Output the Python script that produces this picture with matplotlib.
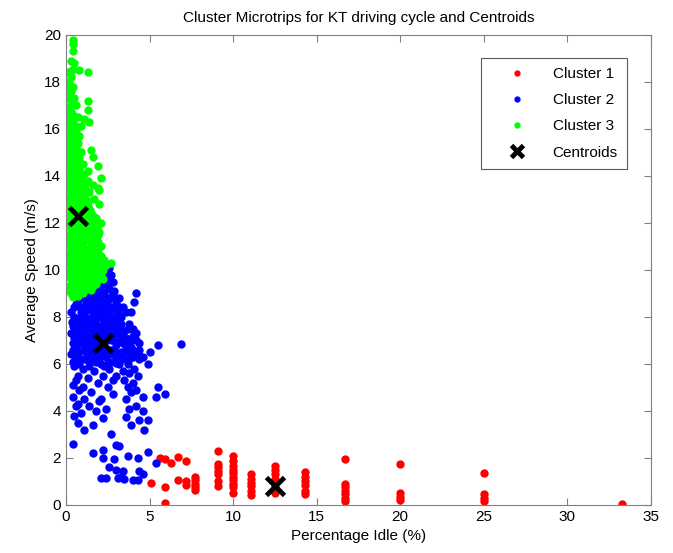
import numpy as np
import matplotlib
matplotlib.use('Agg')
import matplotlib.pyplot as plt

plt.rcParams['font.family'] = ['Liberation Sans', 'DejaVu Sans']

# Cluster 1 (red) - points sit on columns of discrete idle percentages
cluster1 = [
    (5.1, 0.95), (5.6, 2.0), (5.9, 1.95), (6.3, 1.8), (6.7, 2.05), (7.2, 1.85),
    (5.9, 0.75), (5.9, 0.1), (6.7, 1.05), (7.2, 1.0), (7.2, 0.85),
    (7.7, 1.2), (7.7, 1.05), (7.7, 0.9), (7.7, 0.75), (7.7, 0.65),
    (9.1, 2.3), (9.1, 1.75), (9.1, 1.6), (9.1, 1.45), (9.1, 1.3), (9.1, 1.0), (9.1, 0.8),
    (10.0, 2.1), (10.0, 1.85), (10.0, 1.65), (10.0, 1.5), (10.0, 1.35), (10.0, 1.2),
    (10.0, 1.05), (10.0, 0.9), (10.0, 0.75), (10.0, 0.5),
    (11.1, 1.3), (11.1, 1.1), (11.1, 0.95), (11.1, 0.8), (11.1, 0.6), (11.1, 0.4),
    (12.5, 1.65), (12.5, 1.5), (12.5, 1.3), (12.5, 1.1), (12.5, 0.95), (12.5, 0.75), (12.5, 0.5),
    (14.3, 1.4), (14.3, 1.2), (14.3, 1.0), (14.3, 0.85), (14.3, 0.6), (14.3, 0.45),
    (16.7, 1.95), (16.7, 0.9), (16.7, 0.75), (16.7, 0.6), (16.7, 0.45), (16.7, 0.3), (16.7, 0.15),
    (20.0, 1.75), (20.0, 0.5), (20.0, 0.35), (20.0, 0.2),
    (25.0, 1.35), (25.0, 0.45), (25.0, 0.3), (25.0, 0.15),
    (33.3, 0.05),
]

# Cluster 2 (blue)
cluster2 = [
    (2.6, 10.1), (2.4, 9.9), (2.7, 9.8), (2.2, 9.7), (2.5, 9.6), (2.8, 9.5), (1.9, 9.5),
    (2.3, 9.4), (1.6, 9.3), (2.0, 9.2), (2.6, 9.2), (2.9, 9.1), (1.3, 9.1), (4.2, 9.0),
    (1.8, 9.0), (2.3, 8.95), (1.0, 8.9), (2.7, 8.85), (1.5, 8.8), (4.1, 8.65), (2.0, 8.7),
    (0.7, 8.7), (3.0, 8.6), (1.2, 8.6), (2.4, 8.5), (1.7, 8.5), (0.5, 8.4), (2.9, 8.35),
    (2.1, 8.3), (3.9, 8.2), (3.6, 8.2), (1.3, 8.3), (0.3, 8.2), (0.9, 8.2), (2.6, 8.1),
    (1.6, 8.0), (3.3, 8.0), (0.6, 7.9), (2.2, 7.9), (1.1, 7.8), (2.8, 7.8), (3.8, 7.7),
    (1.8, 7.7), (0.4, 7.6), (3.1, 7.6), (2.4, 7.6), (1.4, 7.5), (3.5, 7.4), (0.8, 7.4),
    (2.0, 7.4), (4.2, 7.3), (2.7, 7.3), (1.2, 7.2), (3.3, 7.2), (0.5, 7.1), (1.7, 7.1),
    (3.9, 7.0), (2.4, 7.0), (3.0, 6.95), (1.0, 6.9), (4.4, 6.9), (6.9, 6.85), (5.5, 6.8),
    (1.5, 6.8), (3.6, 6.8), (2.0, 6.7), (0.6, 6.7), (2.7, 6.6), (4.0, 6.6), (3.3, 6.5),
    (1.2, 6.5), (5.0, 6.5), (0.3, 6.4), (1.8, 6.4), (2.4, 6.3), (4.4, 6.2), (3.0, 6.2),
    (0.8, 6.2), (1.4, 6.1), (3.7, 6.0), (4.9, 6.0), (2.1, 6.0), (0.5, 5.9), (1.0, 5.8),
    (2.6, 5.8), (3.4, 5.7), (1.7, 5.7), (3.8, 5.6), (4.3, 5.5), (0.7, 5.5), (2.2, 5.5),
    (1.3, 5.4), (3.5, 5.3), (4.0, 5.2), (1.9, 5.2), (0.4, 5.1), (3.7, 5.0), (5.5, 5.0),
    (1.0, 5.0), (2.5, 5.0), (0.8, 4.9), (4.2, 4.9), (1.5, 4.8), (3.9, 4.8), (2.8, 4.7),
    (5.9, 4.7), (0.4, 4.6), (5.4, 4.6), (4.6, 4.6), (2.1, 4.5), (3.6, 4.5), (1.1, 4.5),
    (2.0, 4.4), (0.7, 4.3), (4.2, 4.2), (1.4, 4.2), (0.6, 4.2), (3.8, 4.1), (2.4, 4.1),
    (4.6, 4.0), (1.8, 4.0), (0.9, 3.9), (3.6, 3.75), (0.5, 3.8), (4.4, 3.6), (4.9, 3.6),
    (2.2, 3.7), (1.6, 3.4), (0.7, 3.5), (3.9, 3.4), (1.1, 3.2), (4.7, 3.2), (2.7, 3.0),
    (0.4, 2.6), (3.0, 2.55), (3.2, 2.5), (2.2, 2.35), (4.9, 2.25), (1.6, 2.2), (3.7, 2.1),
    (2.2, 2.0), (4.3, 2.0), (2.9, 1.95), (5.4, 1.8), (3.0, 1.5), (3.4, 1.45), (4.4, 1.45),
    (2.1, 1.15), (2.4, 1.15), (3.1, 1.15), (3.3, 1.2), (4.0, 1.05), (4.3, 1.05), (2.6, 1.6),
    (3.5, 1.1), (4.6, 1.3),
    (0.9, 8.0), (1.4, 7.9), (2.5, 7.8), (3.0, 7.9), (0.7, 7.7), (1.5, 7.7), (2.1, 7.6),
    (2.9, 7.5), (3.7, 7.5), (1.0, 7.5), (1.7, 7.4), (2.4, 7.35), (3.1, 7.3), (0.6, 7.3),
    (1.5, 7.2), (2.1, 7.2), (2.8, 7.15), (3.6, 7.1), (4.0, 7.2), (0.9, 7.1), (1.3, 7.0),
    (2.0, 7.0), (2.7, 7.0), (3.4, 6.9), (0.4, 6.9), (1.8, 6.9), (2.3, 6.8), (3.0, 6.8),
    (3.9, 6.7), (1.0, 6.6), (1.6, 6.6), (2.4, 6.6), (3.6, 6.5), (4.3, 6.5), (0.7, 6.4),
    (2.1, 6.4), (2.9, 6.4), (1.5, 6.3), (3.4, 6.2), (4.0, 6.3), (1.1, 6.2), (2.7, 6.1),
    (0.4, 6.1), (1.8, 6.1), (3.2, 6.0), (0.8, 6.0), (2.3, 5.9), (1.4, 5.9), (4.1, 5.8),
    (3.0, 5.5), (2.8, 5.3), (0.6, 5.3),
    (1.4, 9.0), (2.2, 9.05), (1.1, 8.8), (1.8, 8.6), (2.5, 8.7), (2.8, 9.0), (2.0, 8.5),
    (1.3, 8.45), (0.8, 8.45), (2.7, 8.4), (1.6, 8.2), (2.3, 8.15), (1.9, 8.0), (2.8, 8.0),
    (1.2, 7.95), (3.4, 8.4), (3.2, 8.8),
    (0.5, 8.0), (1.1, 8.1), (1.9, 8.25), (2.5, 8.3), (3.1, 8.2), (0.35, 7.8), (0.9, 7.75),
    (1.65, 7.85), (2.3, 7.7), (3.3, 7.7), (0.55, 7.5), (1.2, 7.6), (1.95, 7.55), (2.6, 7.5),
    (3.3, 7.45), (4.0, 7.5), (0.3, 7.3), (0.95, 7.3), (1.9, 7.25), (2.5, 7.2), (3.3, 7.0),
    (4.2, 7.0), (0.7, 6.9), (1.6, 7.0), (2.2, 6.9), (2.9, 6.6), (3.6, 6.7), (4.4, 6.6),
    (0.45, 6.6), (1.3, 6.7), (1.9, 6.55), (2.6, 6.4), (3.2, 6.3), (3.9, 6.4), (0.6, 6.3),
    (1.3, 6.4), (2.0, 6.2), (2.5, 6.05), (3.0, 6.05), (3.8, 6.2), (4.6, 6.3),
    (0.9, 9.1), (1.7, 9.2), (2.1, 9.45), (2.5, 9.3), (1.9, 8.85), (2.9, 8.8), (1.4, 8.65),
    (0.6, 8.55), (2.3, 8.6), (1.0, 8.35), (3.2, 8.4),
]

# Cluster 3 (green)
cluster3 = [
    (0.4, 19.8), (0.4, 19.6), (0.4, 19.3), (0.3, 18.9), (0.5, 18.8), (0.8, 18.5), (1.3, 18.4),
    (0.3, 18.2), (0.2, 17.9), (0.4, 17.8), (0.3, 17.6), (0.2, 17.4), (0.5, 17.3), (1.3, 17.2),
    (0.3, 17.1), (0.6, 17.0), (1.3, 16.8), (0.2, 16.8), (0.4, 16.6), (0.7, 16.5), (1.1, 16.4),
    (0.2, 16.3), (0.5, 16.2), (0.9, 16.1), (1.4, 16.3), (0.3, 16.0), (0.6, 15.9), (0.8, 15.7),
    (0.2, 15.7), (0.4, 15.5), (0.7, 15.4), (1.5, 15.1), (0.3, 15.3), (0.6, 15.2), (0.9, 15.0),
    (0.2, 14.9), (1.6, 14.8), (0.5, 14.8), (0.7, 14.6), (0.3, 14.5), (1.0, 14.5), (1.9, 14.4),
    (0.2, 14.3), (0.6, 14.2), (1.3, 14.2), (0.4, 14.0), (0.9, 14.0), (2.1, 13.9), (0.2, 13.8),
    (0.7, 13.8), (1.2, 13.7), (1.6, 13.6), (0.5, 13.6), (1.9, 13.5), (2.0, 13.4), (0.3, 13.4),
    (0.9, 13.4), (1.4, 13.3), (0.6, 13.2), (1.1, 13.1), (0.2, 13.0), (1.7, 13.0), (0.8, 12.9),
    (2.0, 12.8), (0.4, 12.8), (1.3, 12.7), (0.6, 12.6), (1.0, 12.5), (1.5, 12.4), (0.3, 12.3),
    (1.8, 12.2), (0.8, 12.2), (1.2, 12.1), (2.1, 12.0), (0.5, 12.0), (1.6, 11.9), (0.3, 11.8),
    (1.0, 11.8), (1.4, 11.6), (0.7, 11.6), (1.9, 11.5), (0.4, 11.4), (1.2, 11.3), (0.9, 11.2),
    (1.7, 11.1), (0.5, 11.0), (1.4, 10.9), (0.8, 10.8), (1.9, 10.7), (1.1, 10.6), (0.3, 10.6),
    (1.6, 10.5), (0.7, 10.4), (1.3, 10.3), (0.4, 10.2), (1.9, 10.1), (1.0, 10.0), (0.6, 9.9),
    (1.5, 9.9), (0.2, 9.8), (1.2, 9.7), (1.8, 9.6), (0.8, 9.5), (0.4, 9.4), (1.4, 9.4),
    (1.0, 9.2), (0.6, 9.1), (0.3, 9.0), (1.6, 9.3), (2.2, 9.6), (2.0, 10.3), (2.1, 11.0),
    (0.3, 9.0), (0.7, 8.9), (1.0, 9.0), (0.4, 8.85),
    (0.2, 9.3), (0.6, 9.3), (1.0, 9.35), (1.4, 9.3), (1.8, 9.4),
    (0.15, 9.7), (0.5, 9.65), (0.9, 9.7), (1.3, 9.75), (1.7, 9.7), (2.1, 9.8),
    (0.3, 10.1), (0.7, 10.05), (1.1, 10.1), (1.5, 10.15), (1.9, 10.1), (2.4, 10.2), (2.7, 10.3),
    (0.15, 10.5), (0.55, 10.45), (0.95, 10.5), (1.35, 10.55), (1.75, 10.5), (2.1, 10.6),
    (0.3, 10.9), (0.7, 10.85), (1.1, 10.9), (1.5, 10.95), (1.9, 10.9),
    (0.15, 11.3), (0.55, 11.25), (0.95, 11.3), (1.35, 11.35), (1.75, 11.3), (2.0, 11.6),
    (0.3, 11.7), (0.7, 11.65), (1.1, 11.7), (1.5, 11.75), (1.85, 11.8),
    (0.15, 12.1), (0.55, 12.05), (0.95, 12.1), (1.35, 12.15), (1.7, 12.1),
    (0.3, 12.5), (0.7, 12.45), (1.1, 12.5), (1.45, 12.55),
    (0.15, 12.9), (0.55, 12.85), (0.95, 12.9), (1.3, 12.95),
    (0.3, 13.3), (0.7, 13.25), (1.1, 13.3),
    (0.15, 13.7), (0.55, 13.65), (0.95, 13.7), (1.3, 13.8),
    (0.3, 14.1), (0.7, 14.05), (1.1, 14.1),
    (0.15, 14.5), (0.55, 14.45), (0.85, 14.5),
    (0.3, 14.9), (0.65, 14.9), (0.15, 15.4), (0.45, 15.3), (0.2, 15.8), (0.5, 15.7),
    (0.15, 16.1), (0.35, 16.4), (0.15, 16.9), (0.4, 17.2), (0.15, 18.0), (0.35, 18.5),
    (0.1, 9.15), (0.5, 9.2), (0.85, 9.15), (1.2, 9.2), (1.5, 9.15),
    (0.35, 9.5), (0.7, 9.5), (1.1, 9.5), (1.55, 9.55), (1.95, 9.6),
    (0.1, 9.9), (0.45, 9.85), (0.85, 9.9), (1.25, 9.9), (1.7, 9.95), (2.2, 10.0),
    (0.15, 10.3), (0.5, 10.3), (0.9, 10.3), (1.15, 10.35), (1.55, 10.3), (2.3, 10.4),
    (0.1, 10.7), (0.5, 10.7), (0.9, 10.7), (1.25, 10.75), (1.6, 10.7),
    (0.1, 11.1), (0.3, 11.15), (0.7, 11.1), (1.05, 11.1), (1.5, 11.15), (1.9, 11.2),
    (0.15, 11.5), (0.55, 11.5), (0.95, 11.5), (1.2, 11.55), (1.65, 11.5),
    (0.1, 11.9), (0.45, 11.9), (0.85, 11.9), (1.3, 11.95), (1.95, 12.0),
    (0.1, 12.3), (0.5, 12.3), (1.05, 12.3), (1.25, 12.35), (1.6, 12.3),
    (0.1, 12.7), (0.45, 12.7), (0.85, 12.7), (1.2, 12.75),
    (0.1, 13.1), (0.4, 13.1), (0.85, 13.1),
    (0.1, 13.5), (0.45, 13.5), (0.8, 13.5), (1.15, 13.5),
    (0.1, 13.9), (0.5, 13.9), (0.85, 13.9),
    (0.1, 14.3), (0.45, 14.3), (0.8, 14.3),
    (0.1, 14.7), (0.4, 14.7), (0.8, 14.75),
    (0.1, 15.1), (0.4, 15.1), (0.1, 15.6), (0.35, 15.95), (0.1, 16.5), (0.3, 16.7),
    (0.1, 17.3), (0.25, 17.7), (0.1, 18.4),
]

centroids_x = [12.5, 2.2, 0.7]
centroids_y = [0.8, 6.9, 12.3]

labels = ['Cluster 1', 'Cluster 2', 'Cluster 3', 'Centroids']

fig = plt.figure(figsize=(6.73, 5.53), dpi=100)
ax = fig.add_axes([0.098, 0.087, 0.869, 0.85])

for pts, col, lab in zip([cluster1, cluster2, cluster3],
                         ['#ff0000', '#0000ff', '#00ff00'], labels[:3]):
    xs = [p[0] for p in pts]
    ys = [p[1] for p in pts]
    ax.plot(xs, ys, 'o', color=col, ms=5.0, mec=col, label=lab)

ax.plot(centroids_x, centroids_y, 'x', color='k', ms=13, mew=3.5, label=labels[3])

ax.set_xlim(0, 35)
ax.set_ylim(0, 20)
ax.set_xticks(np.arange(0, 36, 5))
ax.set_yticks(np.arange(0, 21, 2))
ax.tick_params(direction='in', top=True, right=True, labelsize=11, length=5, color='#808080')
for s in ax.spines.values():
    s.set_color('#808080')

ax.set_title('Cluster Microtrips for KT driving cycle and Centroids', fontsize=11, pad=9)
ax.set_xlabel('Percentage Idle (%)', fontsize=11)
ax.set_ylabel('Average Speed (m/s)', fontsize=11)

leg = ax.legend(loc='upper right', bbox_to_anchor=(0.959, 0.951), borderaxespad=0,
                fancybox=False, edgecolor='#333333', fontsize=11, markerscale=0.7,
                labelspacing=0.8, handlelength=3.6, handletextpad=0.5, borderpad=0.6)
leg.get_frame().set_linewidth(0.8)

fig.savefig('out.png', dpi=100)
